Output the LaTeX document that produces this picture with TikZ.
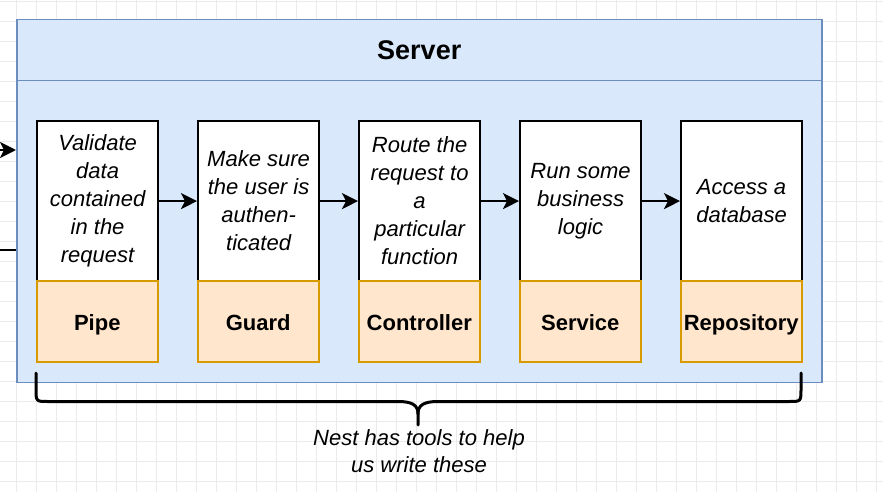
\documentclass[tikz,border=0pt]{standalone}
\usepackage{fontspec}
\setmainfont{Liberation Sans}
\usetikzlibrary{arrows.meta}
\definecolor{srvfill}{HTML}{DAE8FC}
\definecolor{srvdraw}{HTML}{6C8EBF}
\definecolor{orfill}{HTML}{FFE6CC}
\definecolor{ordraw}{HTML}{D79B00}
\definecolor{gridc}{HTML}{EBEBEB}
\begin{document}
\begin{tikzpicture}[x=1pt,y=-1pt,
  desc/.style={draw=black,line width=2.2pt,fill=white,minimum width=121pt,minimum height=160pt,
    inner sep=0pt,align=center,font=\fontsize{22}{28}\selectfont\itshape,anchor=north west},
  kind/.style={draw=ordraw,line width=1.5pt,fill=orfill,minimum width=121pt,minimum height=81pt,
    inner sep=0pt,text height=19pt,text depth=0pt,font=\fontsize{22}{28}\selectfont\bfseries,anchor=north west},
  srv/.style={draw=srvdraw,fill=srvfill,line width=1.5pt,minimum width=805pt,inner sep=0pt,anchor=north west},
  flow/.style={line width=2.2pt,-{Stealth[length=16pt,width=16pt,inset=4pt]}},
  bracket/.style={line width=3pt,line cap=round,line join=round}]
\useasboundingbox (0,0) rectangle (883,492);
\fill[white] (0,0) rectangle (883,492);
% grid
\foreach \gx in {16,36,...,876} \draw[gridc,line width=0.8pt] (\gx,0) -- (\gx,492);
\foreach \gy in {1.7,21.7,...,491} \draw[gridc,line width=0.8pt] (0,\gy) -- (883,\gy);
% server container
\node[srv,minimum height=302.7pt] (body) at (16,79) {};
\node[srv,minimum height=61pt,font=\fontsize{27}{32}\selectfont\bfseries] (title) at (16,19) {Server};
% boxes
\node[desc] (pipeT) at (36,120) {Validate\\data\\contained\\in the\\request};
\node[desc] (guardT) at (197,120) {Make sure\\the user is\\authen-\\ticated};
\node[desc] (ctrlT) at (358,120) {Route the\\request to\\a\\particular\\function};
\node[desc] (servT) at (519,120) {Run some\\business\\logic};
\node[desc] (repoT) at (680,120) {Access a\\database};
\node[kind] (pipeB) at (36,280) {Pipe};
\node[kind] (guardB) at (197,280) {Guard};
\node[kind] (ctrlB) at (358,280) {Controller};
\node[kind] (servB) at (519,280) {Service};
\node[kind] (repoB) at (680,280) {Repository};
% connectors
\draw[flow] (pipeT) -- (guardT);
\draw[flow] (guardT) -- (ctrlT);
\draw[flow] (ctrlT) -- (servT);
\draw[flow] (servT) -- (repoT);
\coordinate (inL) at (0,150);
\coordinate (outL) at (0,250);
\draw[flow] (inL) -- (inL -| body.west);
\draw[line width=2.2pt] (outL) -- (outL -| body.west);
% brace
\draw[bracket] (36,373) -- (36,389) .. controls (36,401.5) .. (48,401.5) -- (398,401.5)
  .. controls (412,401.5) and (418,405) .. (418,414) -- (418,425);
\draw[bracket] (801,373) -- (801,389) .. controls (801,401.5) .. (789,401.5) -- (438,401.5)
  .. controls (424,401.5) and (418,405) .. (418,414);
\node[align=center,font=\fontsize{22}{27}\selectfont\itshape] (note) at (419,451.5) {Nest has tools to help\\us write these};
\end{tikzpicture}
\end{document}
